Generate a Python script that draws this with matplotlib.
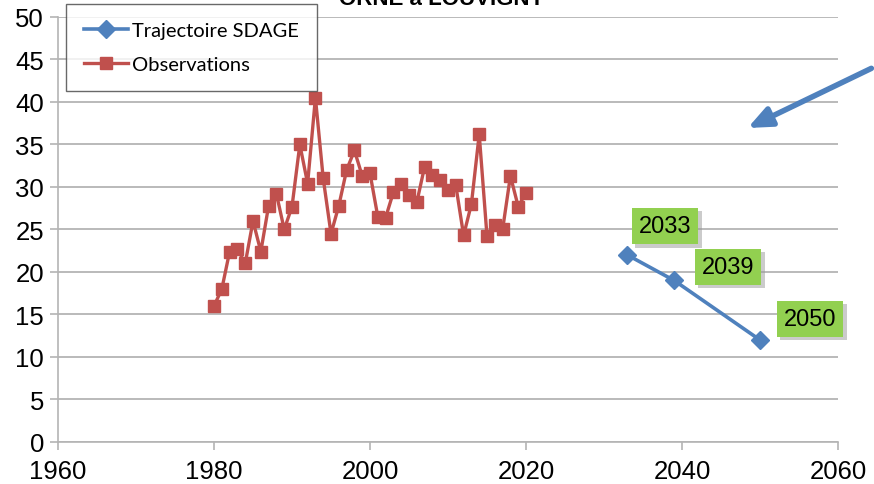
import matplotlib
matplotlib.use("Agg")
import matplotlib.pyplot as plt
import matplotlib.patheffects as pe

# Observations (ORNE a LOUVIGNY)
obs_years = list(range(1980, 2021))
obs_values = [16.0, 18.0, 22.4, 22.7, 21.0, 26.0, 22.4, 27.8, 29.2, 25.0,
              27.7, 35.0, 30.4, 40.5, 31.0, 24.5, 27.8, 32.0, 34.3, 31.3,
              31.6, 26.5, 26.4, 29.4, 30.3, 29.1, 28.2, 32.4, 31.4, 30.8,
              29.6, 30.2, 24.3, 28.0, 36.2, 24.2, 25.5, 25.0, 31.3, 27.7,
              29.3]

# SDAGE trajectory
traj_years = [2033, 2039, 2050]
traj_values = [22.0, 19.0, 12.0]

# label positions of the green boxes (data coords)
label_pos = [(2037.8, 25.4), (2045.9, 20.6), (2056.4, 14.5)]

blue = "#4F81BD"
red = "#C0504D"
green = "#92D050"
grid_col = "#B4B4B4"

fig = plt.figure(figsize=(8.74, 4.85), dpi=100)
ax = fig.add_axes([0.0664, 0.0866, 0.8924, 0.8763])

ax.plot(traj_years, traj_values, color=blue, lw=2.6, marker="D", ms=9,
        label="Trajectoire SDAGE", zorder=3)
ax.plot(obs_years, obs_values, color=red, lw=2.4, marker="s", ms=9,
        label="Observations", zorder=3)

ax.set_xlim(1960, 2060)
ax.set_ylim(0, 50)
ax.set_xticks(range(1960, 2061, 20))
ax.set_yticks(range(0, 51, 5))
ax.yaxis.grid(True, color=grid_col, lw=1.3)
ax.set_axisbelow(True)
for s in ["top", "right"]:
    ax.spines[s].set_visible(False)
for s in ["left", "bottom"]:
    ax.spines[s].set_color(grid_col)
    ax.spines[s].set_linewidth(1.2)
ax.tick_params(axis="both", colors=grid_col, length=6, width=1.2,
               labelcolor="black", labelsize=18.5)
ax.tick_params(axis="x", pad=6)
ax.tick_params(axis="y", pad=4)
for lab in ax.get_xticklabels() + ax.get_yticklabels():
    lab.set_family("Liberation Sans")

for yr, (lx, ly) in zip(traj_years, label_pos):
    t = ax.text(lx, ly, str(yr), ha="center", va="center", fontsize=17,
                family="Liberation Sans", color="black",
                bbox=dict(boxstyle="square,pad=0.3", fc=green, ec="none"),
                zorder=5, clip_on=False)
    t.get_bbox_patch().set_path_effects(
        [pe.SimplePatchShadow(offset=(2.5, -2.5), shadow_rgbFace="#999999", alpha=0.5),
         pe.Normal()])

ax.annotate("", xy=(2048.1, 36.8), xytext=(2064.6, 44.1),
            arrowprops=dict(arrowstyle="-|>,head_length=1.4,head_width=0.6",
                            color=blue, lw=4),
            annotation_clip=False, zorder=6)

leg = ax.legend(loc="upper left", bbox_to_anchor=(0.0103, 1.031),
                prop={"family": "Lato", "size": 14.5}, frameon=True,
                fancybox=False, edgecolor="#444444", borderpad=0.9,
                labelspacing=0.85, handlelength=2.2, handletextpad=0.15,
                borderaxespad=0)
leg.get_frame().set_linewidth(1.0)
leg.set_zorder(7)

fig.text(0.505, 0.989, "ORNE à LOUVIGNY", ha="center", va="baseline",
         fontsize=16, fontweight="bold", family="Liberation Sans")

fig.savefig("out.png", dpi=100)
